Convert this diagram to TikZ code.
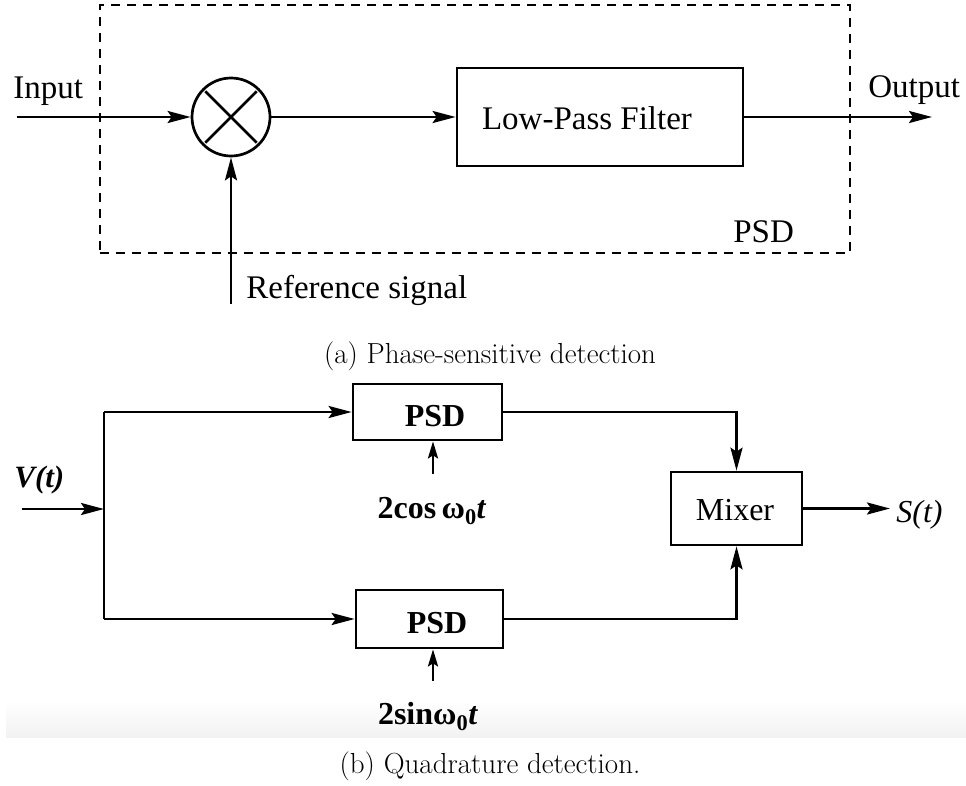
\documentclass[tikz,border=0pt]{standalone}
\usepackage{fontspec}
\newfontfamily\tnr{Liberation Serif}
\usetikzlibrary{arrows.meta,calc}
\begin{document}
\begin{tikzpicture}[x=1pt,y=-1pt,
  line width=2.7pt,
  arr/.style={-{Stealth[length=23pt,width=12pt,inset=4pt]}},
  sarr/.style={-{Stealth[length=17pt,width=10pt,inset=3pt]}},
  lbl/.style={inner sep=0pt,font=\tnr\fontsize{33}{36}\selectfont},
  blbl/.style={inner sep=0pt,font=\tnr\bfseries\fontsize{32}{36}\selectfont},
  captext/.style={inner sep=0pt,font=\fontsize{29}{32}\selectfont},
  blockbox/.style={draw,rectangle,inner sep=0pt}]
\useasboundingbox (0,0) rectangle (966,785);
% faint scan band
\shade[top color=white,bottom color=black!5,draw=none] (6,700) rectangle (966,737);

% ---------- (a) Phase-sensitive detection ----------
\node[draw,rectangle,dash pattern=on 9pt off 7pt,line width=2.2pt,
      minimum width=750pt,minimum height=248pt,inner sep=0pt] (psdbox) at (475,129) {};
\node[lbl,anchor=base west] (inlbl) at (12,98) {Input};
\coordinate (inS) at (17,117);
\node[draw,circle,minimum size=78pt,inner sep=0pt] (mult) at (231,117) {};
\draw[shorten <=4pt,shorten >=4pt] (mult.north east) -- (mult.south west);
\draw[shorten <=4pt,shorten >=4pt] (mult.north west) -- (mult.south east);
\node[blockbox,minimum width=286pt,minimum height=98pt] (lpf) at (600,117) {};
\node[lbl] (lpftext) at (587,118) {Low-Pass Filter};
\node[lbl,anchor=base west] (outlbl) at (867,97) {Output};
\coordinate (outE) at (932,117);
\node[lbl,anchor=base west] (psdlbl) at (732,242) {PSD};
\coordinate (refS) at (231,304);
\node[lbl,anchor=base west] (reflbl) at (245,298) {Reference signal};

\draw[arr] (inS) -- (mult.west);
\draw[arr] (mult.east) -- (lpf.west);
\draw[arr] (lpf.east) -- (outE);
\draw[arr] (refS) -- (mult.south);

\node[captext,anchor=base] (capa) at (490,363) {(a) Phase-sensitive detection};

% ---------- (b) Quadrature detection ----------
\node[inner sep=0pt,anchor=base west,font=\tnr\bfseries\itshape\fontsize{31}{36}\selectfont] (vlbl) at (13,487) {V(t)};
\coordinate (vin) at (22,509);
\coordinate (split) at (104,509);
\coordinate (splitT) at (104,412);
\coordinate (splitB) at (104,619);

\node[blockbox,minimum width=149pt,minimum height=56pt] (psd1) at (427.5,412) {};
\node[blbl,anchor=base] (psd1t) at (435,426) {PSD};
\node[blockbox,minimum width=147pt,minimum height=58pt] (psd2) at (429.5,619) {};
\node[blbl,anchor=base] (psd2t) at (437,633) {PSD};
\node[blockbox,minimum width=131pt,minimum height=73pt] (mixer) at (736.5,508.5) {};
\node[lbl,anchor=base,font=\tnr\fontsize{32}{36}\selectfont] (mixt) at (735,520) {Mixer};

\coordinate (cosS) at (433,474);
\coordinate (sinS) at (433,681);
\node[blbl,anchor=base] (coslbl) at (432,518) {2cos\,ω\textsubscript{0}\textit{t}};
\node[blbl,anchor=base] (sinlbl) at (428,724) {2sinω\textsubscript{0}\textit{t}};
\coordinate (sout) at (890,508.5);
\node[inner sep=0pt,anchor=base west,font=\tnr\itshape\fontsize{32}{36}\selectfont] (slbl) at (895,522) {S(t)};

\draw[arr] (vin) -- (split);
\draw (splitT) -- (splitB);
\draw[arr] (splitT) -- (psd1.west |- splitT);
\draw[arr] (splitB) -- (psd2.west |- splitB);
\draw[sarr] (cosS) -- (psd1.south -| cosS);
\draw[sarr] (sinS) -- (psd2.south -| sinS);
\draw[arr] (psd1.east) -| (mixer.north);
\draw[arr] (psd2.east) -| (mixer.south);
\draw[arr] (mixer.east) -- (sout);

\node[captext,anchor=base] (capb) at (490,773) {(b) Quadrature detection.};
\end{tikzpicture}
\end{document}
